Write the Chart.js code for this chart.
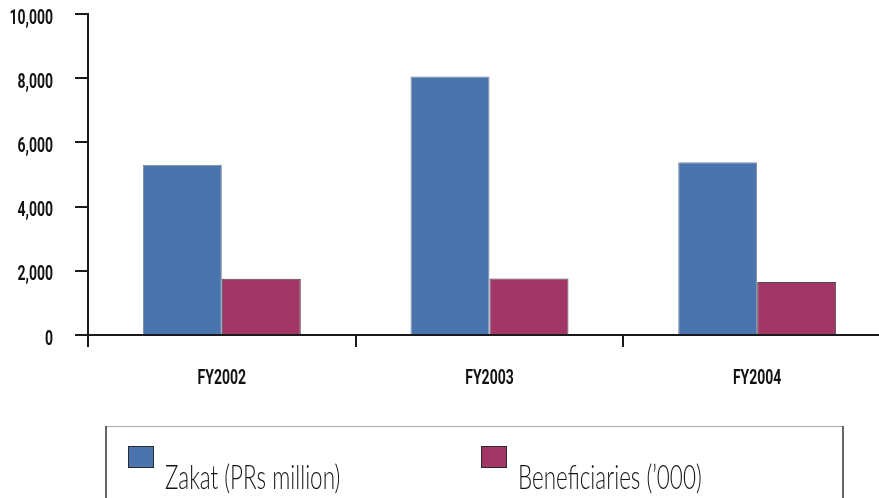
<!DOCTYPE html>
<html>
<head>
<meta charset="utf-8">
<title>Zakat disbursement and beneficiaries</title>
<script src="https://cdn.jsdelivr.net/npm/chart.js@4.4.1/dist/chart.umd.min.js"></script>
<style>
  html, body { margin: 0; padding: 0; background: #ffffff; overflow: hidden; }
  #wrap { width: 879px; height: 498px; overflow: hidden; position: relative; }
  canvas { display: block; }
</style>
</head>
<body>
<div id="wrap"><canvas id="chart" width="891" height="498"></canvas></div>
<script>
// Fiscal years on the category axis
const categories = ['FY2002', 'FY2003', 'FY2004'];
// Zakat disbursed, PRs million
const zakatValues = [5300, 8050, 5380];
// Number of beneficiaries, thousands
const beneficiaryValues = [1750, 1760, 1650];
// Value axis range
const yMin = 0;
const yMax = 10000;
const yStep = 2000;

const seriesNames = ['Zakat (PRs million)', 'Beneficiaries (\u2019000)'];
const seriesColors = ['#4a74ae', '#a23767'];

// Bold condensed face for the axis labels (a regular face squeezed horizontally)
const tickFont = 'bold 20px Roboto, "Noto Sans", sans-serif';
const tickSqueeze = 0.7;
const tickGap = 22;

function drawSqueezed(ctx, text, x, y, align, squeeze) {
  ctx.save();
  ctx.translate(x, y);
  ctx.scale(squeeze, 1);
  ctx.textAlign = align;
  ctx.textBaseline = 'alphabetic';
  ctx.fillText(text, 0, 0);
  ctx.restore();
}

// Axis labels, placed from the scales' own tick positions
const condensedTicks = {
  id: 'condensedTicks',
  afterDraw(chart) {
    const ctx = chart.ctx;
    const xs = chart.scales.x;
    const ys = chart.scales.y;
    ctx.save();
    ctx.font = tickFont;
    ctx.fillStyle = '#111111';
    ys.ticks.forEach((t, i) => {
      const py = ys.getPixelForTick(i);
      const px = ys.right - ys.options.grid.tickLength - tickGap;
      drawSqueezed(ctx, t.label, px, py + 9.5, 'right', tickSqueeze);
    });
    xs.ticks.forEach((t, i) => {
      const px = xs.getPixelForTick(i);
      drawSqueezed(ctx, xs.getLabelForValue(t.value), px, xs.top + 49, 'center', tickSqueeze);
    });
    ctx.restore();
  }
};

// Boxed legend under the chart, with the swatch above the text baseline
const boxedLegend = {
  id: 'boxedLegend',
  afterDraw(chart) {
    const ctx = chart.ctx;
    const boxLeft = 106, boxTop = 426, boxRight = 843, boxBottom = 520;
    ctx.save();
    ctx.strokeStyle = '#a8a8a8';
    ctx.lineWidth = 1;
    ctx.beginPath();
    ctx.moveTo(boxLeft, boxTop + 0.5);
    ctx.lineTo(boxRight, boxTop + 0.5);
    ctx.stroke();
    ctx.strokeStyle = '#333333';
    ctx.lineWidth = 1.5;
    ctx.beginPath();
    ctx.moveTo(boxLeft, boxTop);
    ctx.lineTo(boxLeft, boxBottom);
    ctx.moveTo(boxRight, boxTop);
    ctx.lineTo(boxRight, boxBottom);
    ctx.stroke();

    const itemX = [128, 481];
    chart.data.datasets.forEach((ds, i) => {
      const x = itemX[i];
      ctx.fillStyle = ds.backgroundColor;
      ctx.fillRect(x, 446, 26, 22);
      ctx.strokeStyle = '#2a2a2a';
      ctx.lineWidth = 1;
      ctx.strokeRect(x + 0.5, 446.5, 25, 21);

      ctx.font = '300 34px Lato, "Open Sans", sans-serif';
      ctx.fillStyle = '#141414';
      drawSqueezed(ctx, ds.label, x + 37, 489, 'left', 0.66);
    });
    ctx.restore();
  }
};

new Chart(document.getElementById('chart'), {
  type: 'bar',
  data: {
    labels: categories,
    datasets: [
      {
        label: seriesNames[0],
        data: zakatValues,
        backgroundColor: seriesColors[0],
        borderColor: '#7d8896',
        borderWidth: { top: 1, left: 1, right: 1, bottom: 0 },
        borderSkipped: 'bottom'
      },
      {
        label: seriesNames[1],
        data: beneficiaryValues,
        backgroundColor: seriesColors[1],
        borderColor: '#4a4a4a',
        borderWidth: { top: 1, left: 1, right: 1, bottom: 0 },
        borderSkipped: 'bottom'
      }
    ]
  },
  options: {
    responsive: false,
    animation: false,
    layout: { padding: { left: 0, top: 14, right: 0, bottom: 103 } },
    datasets: {
      bar: { categoryPercentage: 0.59, barPercentage: 1.0 }
    },
    plugins: {
      legend: { display: false },
      tooltip: { enabled: false },
      title: { display: false }
    },
    scales: {
      x: {
        offset: true,
        grid: {
          offset: true,
          drawOnChartArea: false,
          drawTicks: true,
          tickLength: 12,
          color: '#1a1a1a',
          lineWidth: 2
        },
        border: { display: true, color: '#1a1a1a', width: 2 },
        ticks: { display: false },
        afterFit(scale) {
          scale.height = 60;
          scale.paddingLeft = 0;
          scale.paddingRight = 0;
        }
      },
      y: {
        min: yMin,
        max: yMax,
        grid: {
          drawOnChartArea: false,
          drawTicks: true,
          tickLength: 13,
          color: '#1a1a1a',
          lineWidth: 2
        },
        border: { display: true, color: '#1a1a1a', width: 2 },
        ticks: {
          display: false,
          stepSize: yStep,
          callback: (v) => v.toLocaleString('en-US')
        },
        afterFit(scale) {
          scale.width = 88;
          scale.paddingTop = 0;
          scale.paddingBottom = 0;
        }
      }
    }
  },
  plugins: [boxedLegend, condensedTicks]
});
</script>
</body>
</html>
